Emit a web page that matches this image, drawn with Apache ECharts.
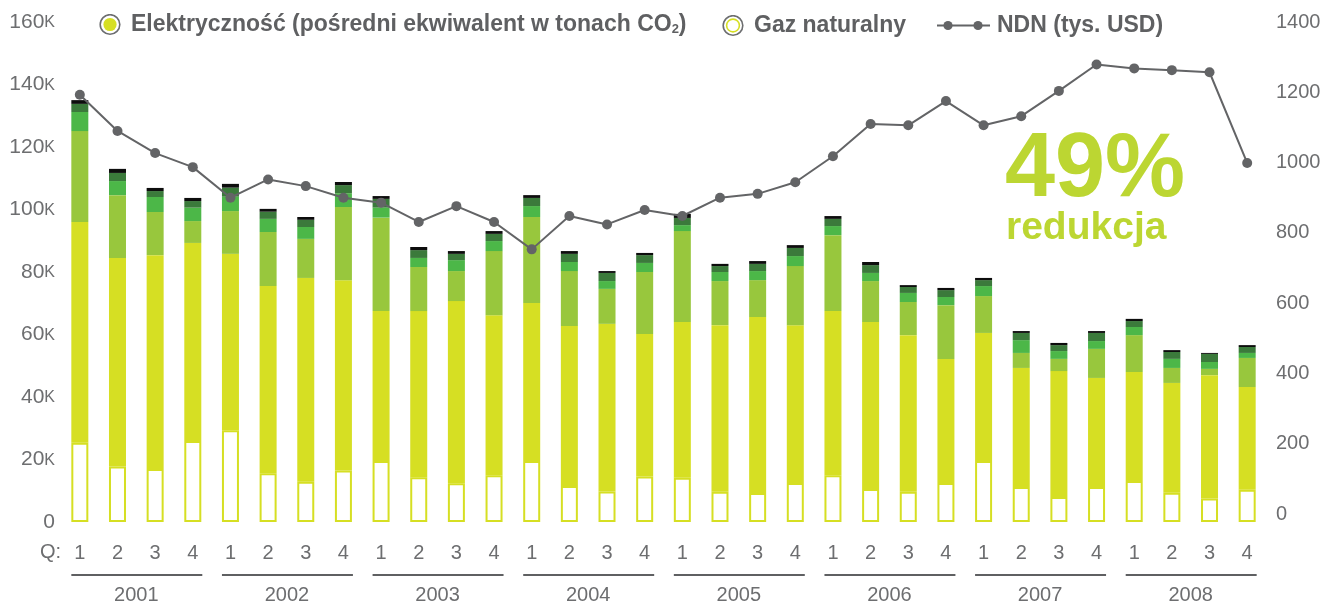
<!DOCTYPE html>
<html><head><meta charset="utf-8">
<script src="https://cdn.jsdelivr.net/npm/echarts@6/dist/echarts.min.js"></script>
<style>html,body{margin:0;padding:0;background:#fff}#c{width:1328px;height:606px}</style>
</head><body><div id="c"></div>
<script>
// ---- data (values in thousands of tonnes CO2 / thousand USD) ----
const quarters = ['1','2','3','4','1','2','3','4','1','2','3','4','1','2','3','4',
                  '1','2','3','4','1','2','3','4','1','2','3','4','1','2','3','4'];
const years = ['2001','2002','2003','2004','2005','2006','2007','2008'];
const leftTicks = [0,20,40,60,80,100,120,140,160];
const rightTicks = [0,200,400,600,800,1000,1200,1400];

// Natural gas (hollow bottom segment)
const gas = [25.4,17.8,17.0,25.9, 29.4,15.6,12.9,16.5, 19.5,14.3,12.4,15.0, 19.5,11.5,9.8,14.6,
             14.2,9.7,9.3,12.5, 15.0,10.6,9.7,12.5, 19.5,11.2,8.0,11.2, 13.1,9.4,7.5,10.3];
// Electricity segments (indirect CO2 equivalent), bottom to top
const elYellow = [70.6,66.7,68.4,63.4, 56.4,59.9,65.2,60.9, 48.0,53.2,58.3,51.2, 50.6,51.2,53.6,45.6,
                  49.8,53.3,56.3,50.5, 52.5,53.4,50.1,39.7, 41.0,38.1,40.3,34.9, 34.9,35.1,39.5,32.9];
const elLight = [29.1,20.1,13.8,7.0, 13.7,17.3,12.5,23.4, 29.9,14.1,9.6,20.5, 27.5,17.6,11.2,19.8,
                 29.1,14.1,11.8,18.9, 24.3,13.1,10.6,17.2, 11.8,4.8,3.9,9.3, 11.8,4.8,2.0,9.3];
const elGreen = [6.1,4.5,4.8,4.3, 4.6,4.2,3.8,4.4, 3.2,2.9,3.5,3.2, 3.5,2.9,2.5,2.9,
                 1.9,2.9,2.9,3.2, 2.9,2.6,2.9,2.6, 3.2,4.1,2.5,2.5, 2.6,2.9,2.2,1.6];
const elDark = [2.6,2.6,1.9,2.1, 2.9,2.3,2.3,2.6, 2.8,2.5,2.0,2.3, 2.6,2.6,2.6,2.5,
                2.3,1.9,2.3,2.6, 2.3,2.5,1.9,2.2, 1.9,2.3,1.9,2.6, 1.9,2.2,2.6,1.9];
const elBlack = [1.2,1.3,1.0,1.0, 1.2,0.9,0.9,1.0, 0.9,1.0,0.9,0.9, 0.9,0.9,0.6,0.7,
                 1.3,0.7,0.9,0.9, 0.9,1.0,0.6,0.7, 0.7,0.6,0.7,0.6, 0.7,0.6,0.3,0.6];
// NDN (thousand USD)
const ndn = [1193,1090,1027,987, 900,952,933,900, 886,831,876,831, 753,848,824,865,
             848,900,911,944, 1018,1110,1106,1175, 1106,1132,1204,1279, 1268,1263,1257,999];

const NAME_EL = 'Elektryczność (pośredni ekwiwalent w tonach CO2)';
const NAME_GAS = 'Gaz naturalny';
const NAME_NDN = 'NDN (tys. USD)';

const FONT = '"Liberation Sans", Arial, Helvetica, sans-serif';
const GREY = '#6d6e70';
const LEG = '#5f6062';
const C_YEL = '#d6df23', C_LG = '#98c73d', C_G = '#4cb748', C_DG = '#3b7a3b', C_BK = '#0d0d0d';
const LINE = '#636466';

function svgIcon(s){ return 'image://data:image/svg+xml;charset=utf-8,' + encodeURIComponent(s); }
const iconEl = svgIcon("<svg xmlns='http://www.w3.org/2000/svg' width='27' height='22' viewBox='0 0 27 22'><circle cx='11' cy='11' r='9.8' fill='#fff' stroke='#6d6e70' stroke-width='1.6'/><circle cx='11' cy='11' r='6.6' fill='#d6df23'/></svg>");
const iconGas = svgIcon("<svg xmlns='http://www.w3.org/2000/svg' width='27' height='22' viewBox='0 0 27 22'><circle cx='11' cy='11' r='9.8' fill='#fff' stroke='#6d6e70' stroke-width='1.6'/><circle cx='11' cy='11' r='6.4' fill='#fff' stroke='#d6df23' stroke-width='1.6'/></svg>");
const iconNdn = svgIcon("<svg xmlns='http://www.w3.org/2000/svg' width='55' height='12' viewBox='0 0 55 12'><line x1='0' y1='6' x2='53' y2='6' stroke='#636466' stroke-width='2'/><circle cx='11' cy='6' r='4.6' fill='#636466'/><circle cx='41' cy='6' r='4.6' fill='#636466'/></svg>");

const LFS = 23;
const legText = {fontFamily: FONT, fontWeight: 'bold', fontSize: LFS, color: LEG};

const chart = echarts.init(document.getElementById('c'), null, {renderer: 'canvas'});

const barBase = {type: 'bar', stack: 'co2', barWidth: 17, xAxisIndex: 0, yAxisIndex: 0,
                 emphasis: {disabled: true}, silent: true};

chart.setOption({
  animation: false,
  backgroundColor: '#fff',
  grid: [
    {left: 61, right: 62, top: 22, bottom: 84},
    {left: 61, right: 62, top: 22, bottom: 92}
  ],
  legend: [
    {left: 94, top: 8, itemWidth: 27, itemHeight: 22, selectedMode: false,
     data: [{name: NAME_EL, icon: iconEl}],
     formatter: () => '{a|Elektryczność (pośredni ekwiwalent w tonach CO}{s|2}{a|)}',
     textStyle: Object.assign({}, legText, {rich: {
        a: {fontFamily: FONT, fontWeight: 'bold', fontSize: LFS, color: LEG},
        s: {fontFamily: FONT, fontWeight: 'bold', fontSize: 13, color: LEG, padding: [9,0,0,0]}
     }})},
    {left: 717, top: 9, itemWidth: 27, itemHeight: 22, selectedMode: false,
     data: [{name: NAME_GAS, icon: iconGas}], textStyle: legText},
    {left: 932, top: 9, itemWidth: 55, itemHeight: 12, selectedMode: false,
     data: [{name: NAME_NDN, icon: iconNdn}], textStyle: legText}
  ],
  xAxis: [
    {type: 'category', gridIndex: 0, data: quarters, boundaryGap: true,
     axisLine: {show: false}, axisTick: {show: false},
     axisLabel: {color: GREY, fontFamily: FONT, fontSize: 20, margin: 21, interval: 0}},
    {type: 'category', gridIndex: 1, data: quarters, boundaryGap: true, show: false},
    {type: 'category', gridIndex: 0, data: years, position: 'bottom', offset: 51,
     axisLine: {show: false}, axisTick: {show: false},
     axisLabel: {color: GREY, fontFamily: FONT, fontSize: 20, margin: 12, interval: 0}}
  ],
  yAxis: [
    {type: 'value', gridIndex: 0, min: leftTicks[0], max: leftTicks[leftTicks.length-1], interval: 20,
     splitLine: {show: false}, axisLine: {show: false}, axisTick: {show: false},
     axisLabel: {margin: 6, color: GREY,
       formatter: v => v === 0 ? '{n|0}' : '{n|' + v + '}{k|K}',
       rich: {n: {fontFamily: FONT, fontSize: 21, color: GREY},
              k: {fontFamily: FONT, fontSize: 16, color: GREY, padding: [2,0,0,0]}}}},
    {type: 'value', gridIndex: 1, position: 'right', min: rightTicks[0], max: rightTicks[rightTicks.length-1], interval: 200,
     splitLine: {show: false}, axisLine: {show: false}, axisTick: {show: false},
     axisLabel: {margin: 10, color: GREY, fontFamily: FONT, fontSize: 20, formatter: v => String(v)}}
  ],
  series: [
    Object.assign({}, barBase, {name: NAME_GAS, data: gas,
      itemStyle: {color: '#ffffff', borderColor: C_YEL, borderWidth: 2}}),
    Object.assign({}, barBase, {name: NAME_EL, data: elYellow, itemStyle: {color: C_YEL}}),
    Object.assign({}, barBase, {name: 'el-2', data: elLight, itemStyle: {color: C_LG}}),
    Object.assign({}, barBase, {name: 'el-3', data: elGreen, itemStyle: {color: C_G}}),
    Object.assign({}, barBase, {name: 'el-4', data: elDark, itemStyle: {color: C_DG}}),
    Object.assign({}, barBase, {name: 'el-5', data: elBlack, itemStyle: {color: C_BK}}),
    {type: 'custom', name: 'years', xAxisIndex: 0, yAxisIndex: 0, silent: true, clip: false,
     data: years.map((y, i) => [i]),
     renderItem: function (params, api) {
       const i = api.value(0);
       const a = api.coord([4 * i, 0]);
       const b = api.coord([4 * i + 3, 0]);
       const hw = 8.5;
       return {type: 'line', shape: {x1: a[0] - hw, y1: a[1] + 53, x2: b[0] + hw + 1, y2: a[1] + 53},
               style: {stroke: '#5f6062', lineWidth: 2}};
     }},
    {type: 'line', name: NAME_NDN, xAxisIndex: 1, yAxisIndex: 1, data: ndn,
     symbol: 'circle', symbolSize: 10, silent: true,
     lineStyle: {color: LINE, width: 2}, itemStyle: {color: LINE},
     emphasis: {disabled: true}, z: 5}
  ],
  graphic: [
    {type: 'text', left: 40, top: 542, silent: true,
     style: {text: 'Q:', fontFamily: FONT, fontSize: 20, fill: GREY}},
    {type: 'text', x: 1005, y: 171, silent: true,
     style: {text: '49%', fontFamily: FONT, fontWeight: 'bold', fontSize: 90, fill: '#bcd632',
             verticalAlign: 'middle'}},
    {type: 'text', x: 1006, y: 228, silent: true,
     style: {text: 'redukcja', fontFamily: FONT, fontWeight: 'bold', fontSize: 39, fill: '#bcd632',
             verticalAlign: 'middle'}}
  ]
});
</script></body></html>
